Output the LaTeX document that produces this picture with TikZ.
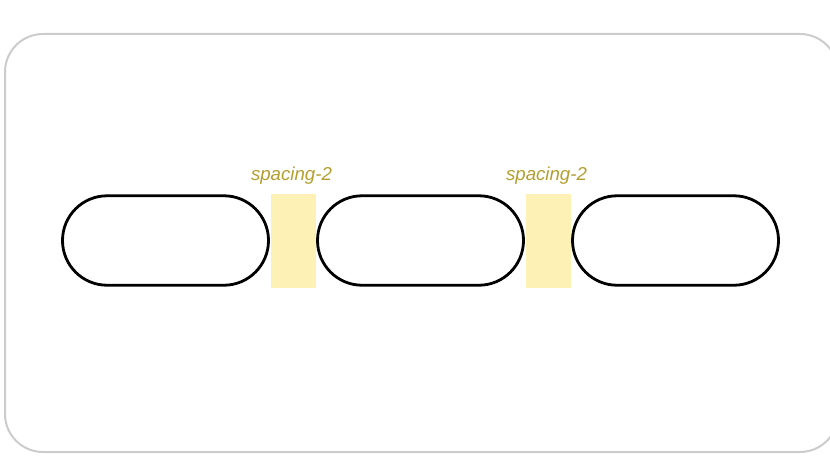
\documentclass[tikz,border=0pt]{standalone}
\usepackage{fontspec}
\setmainfont{Liberation Sans}
\definecolor{frame}{HTML}{CCCCCC}
\definecolor{gap}{HTML}{FDF1B5}
\definecolor{lbl}{HTML}{B39E2F}
\begin{document}
\begin{tikzpicture}[x=0.75pt,y=-0.75pt,
  pill/.style={draw=black,line width=2.1pt,fill=white,rectangle,rounded corners=33.5pt,
    minimum width=154.5pt,minimum height=67.1pt,inner sep=0pt,outer sep=0pt},
  gapbox/.style={fill=gap,draw=none,rectangle,minimum width=33.75pt,minimum height=70pt,
    inner sep=0pt,outer sep=0pt},
  gaplabel/.style={text=lbl,font=\fontsize{14pt}{16pt}\selectfont\itshape,
    anchor=base,inner sep=0pt}]
\useasboundingbox (0,0) rectangle (830,460);
\clip (0,0) rectangle (830,460);
\draw[frame,line width=1.5pt,rounded corners=28.5pt] (5,34) rectangle (838,452);
\node[gapbox] (g1) at (293.5,241) {};
\node[gapbox] (g2) at (548.5,241) {};
\node[pill] (p1) at (165.5,240.5) {};
\node[pill] (p2) at (420.5,240.5) {};
\node[pill] (p3) at (675.5,240.5) {};
\node[gaplabel] (l1) at (291.5,180.5) {spacing-2};
\node[gaplabel] (l2) at (546.5,180.5) {spacing-2};
\end{tikzpicture}
\end{document}
